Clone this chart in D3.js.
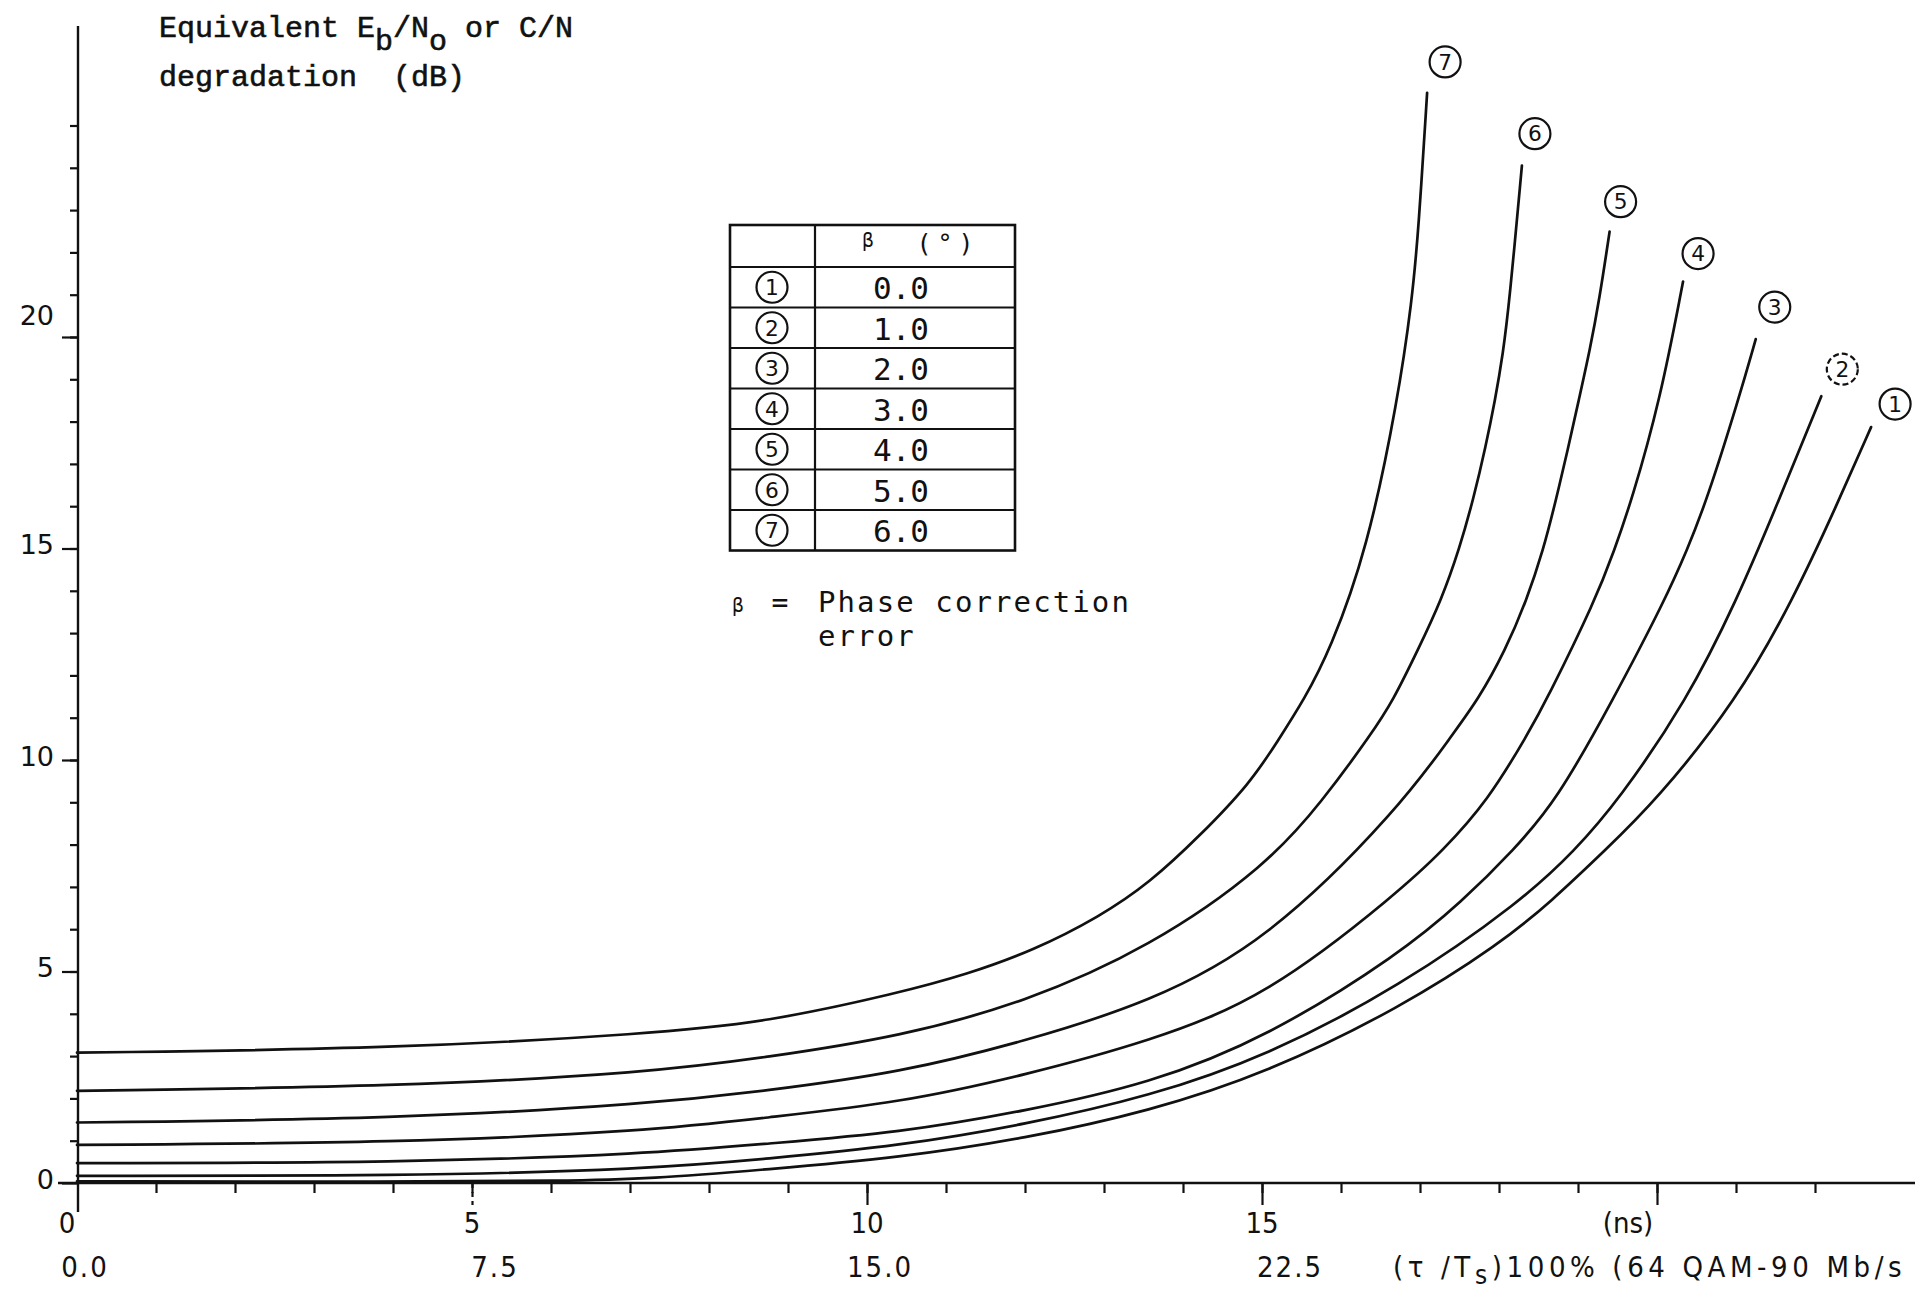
<!DOCTYPE html>
<html>
<head>
<meta charset="utf-8">
<script src="https://cdn.jsdelivr.net/npm/d3@7"></script>
<style>
  body { margin: 0; background: #fff; }
  svg { display: block; }
  text { fill: #111; white-space: pre; }
</style>
</head>
<body>
<svg id="chart" width="1915" height="1290"></svg>
<script>
// ---- data (x in ns, y in dB) ----
var betaValues = ["0.0", "1.0", "2.0", "3.0", "4.0", "5.0", "6.0"];

var curve1 = [[0,0.04],[4.09,0.03],[6.2,0.05],[7.25,0.1],[8.73,0.32],[10.42,0.6],[12,1.05],[13.58,1.7],[15.06,2.6],[16.75,4.14],[18.01,5.65],[18.67,6.67],[19.34,7.86],[19.99,9.04],[21.01,11.41],[21.72,13.78],[22.27,16.0],[22.71,17.87]];
var curve2 = [[0,0.17],[4.09,0.16],[7.25,0.33],[8.73,0.57],[10.42,0.88],[12,1.38],[13.58,2.05],[15.06,3.0],[16.75,4.65],[18.29,6.67],[18.96,7.86],[19.51,9.04],[20.38,11.41],[21.01,13.78],[21.49,15.9],[22.08,18.6]];
var curve3 = [[0,0.47],[4.09,0.48],[7.25,0.69],[8.73,0.93],[10.42,1.19],[12,1.7],[13.58,2.35],[15.06,3.44],[16.75,5.42],[17.54,6.67],[18.18,7.86],[18.73,9.04],[19.44,11.41],[20.1,13.78],[20.38,14.96],[20.63,16.14],[21.03,18.51],[21.25,19.95]];
var curve4 = [[0,0.9],[4.09,0.95],[7.25,1.23],[8.73,1.55],[10.42,1.9],[12,2.55],[13.58,3.35],[15.06,4.4],[16.75,6.91],[17.29,7.86],[17.86,9.04],[18.37,10.63],[18.6,11.41],[19.22,13.78],[19.46,14.96],[19.68,16.14],[20.04,18.51],[20.33,21.31]];
var curve5 = [[0,1.43],[4.09,1.52],[7.25,1.87],[8.73,2.18],[10.42,2.61],[12,3.35],[13.58,4.27],[15.06,5.7],[16.75,8.88],[17.42,10.63],[17.73,11.41],[18.08,12.59],[18.35,13.78],[18.56,14.96],[18.72,16.14],[18.87,17.33],[19.01,18.51],[19.15,19.69],[19.27,20.88],[19.4,22.49]];
var curve6 = [[0,2.18],[4.09,2.28],[7.25,2.61],[8.73,2.97],[10.42,3.46],[12,4.27],[13.58,5.57],[15.06,7.5],[15.77,9.04],[16.39,10.63],[16.66,11.41],[16.97,12.59],[17.27,13.78],[17.5,15.0],[17.68,16.2],[17.83,17.4],[17.95,18.5],[18.05,19.6],[18.13,20.8],[18.29,24.05]];
var curve7 = [[0,3.08],[4.09,3.18],[7.25,3.53],[8.73,3.8],[10.42,4.5],[11.26,4.93],[12.1,5.49],[12.95,6.3],[13.58,7.1],[14.21,8.2],[14.85,9.45],[15.2,10.45],[15.54,11.45],[15.86,12.59],[16.33,14.96],[16.72,18.51],[16.9,20.88],[16.98,22.5],[17.09,25.77]];

var series = [curve1, curve2, curve3, curve4, curve5, curve6, curve7];

var yMajorTicks = [0, 5, 10, 15, 20];
var xTopValues = [0, 5, 10, 15, 20];
var xTopLabels = ["0", "5", "10", "15", "(ns)"];
var xBottomValues = [0, 5, 10, 15];
var xBottomLabels = ["0.0", "7.5", "15.0", "22.5"];

// label offsets (px) of the circled numbers from each curve's end
var labelOffsets = [[24,-23],[21,-27],[19,-32],[15,-28],[11,-30],[13,-32],[18,-31]];

var svg = d3.select("#chart");

var x = d3.scaleLinear().domain([0, 20]).range([77, 1657]),
    y = d3.scaleLinear().domain([0, 20]).range([1183, 337]);

var axisX = 78;
var mono = "'DejaVu Sans Mono', monospace";
var condensed = "'DejaVu Sans Condensed', sans-serif";

// ---- title ----
var title = svg.append("text")
  .attr("x", 159).attr("y", 37)
  .attr("font-family", "'Liberation Mono', monospace")
  .attr("font-size", 30)
  .attr("stroke", "#111").attr("stroke-width", 0.6);
title.append("tspan").text("Equivalent E");
title.append("tspan").attr("dy", 13).text("b");
title.append("tspan").attr("dy", -13).text("/N");
title.append("tspan").attr("dy", 13).text("o");
title.append("tspan").attr("dy", -13).text(" or C/N");

svg.append("text")
  .attr("x", 159).attr("y", 86)
  .attr("font-family", "'Liberation Mono', monospace")
  .attr("font-size", 30)
  .attr("stroke", "#111").attr("stroke-width", 0.6)
  .text("degradation  (dB)");

// ---- y axis ----
svg.append("line")
  .attr("x1", axisX).attr("x2", axisX)
  .attr("y1", 26).attr("y2", 1212)
  .attr("stroke", "#111").attr("stroke-width", 2.4);

svg.append("g")
  .attr("transform", "translate(" + axisX + ",0)")
  .call(d3.axisLeft(y).tickValues(d3.range(1, 26)).tickSize(8).tickFormat(""));

var yMajor = svg.append("g")
  .attr("transform", "translate(" + axisX + ",0)")
  .call(d3.axisLeft(y).tickValues(yMajorTicks).tickSize(16).tickPadding(8));

yMajor.selectAll("text")
  .attr("font-family", "'DejaVu Sans', sans-serif")
  .attr("font-size", 27)
  .attr("fill", "#111")
  .attr("dy", function(d) { return d === 20 ? "-0.45em" : "0.2em"; });

// ---- x axis ----
svg.append("line")
  .attr("x1", 58).attr("x2", 1915)
  .attr("y1", y(0)).attr("y2", y(0))
  .attr("stroke", "#111").attr("stroke-width", 2.4);

svg.append("g")
  .attr("transform", "translate(0," + y(0) + ")")
  .call(d3.axisBottom(x).tickValues(d3.range(1, 23)).tickSize(10).tickFormat(""));

svg.append("g")
  .attr("transform", "translate(0," + y(0) + ")")
  .call(d3.axisBottom(x).tickValues([10, 15, 20]).tickSize(22).tickFormat(""));

var xDashed = svg.append("g")
  .attr("transform", "translate(0," + y(0) + ")")
  .call(d3.axisBottom(x).tickValues([5]).tickSize(22).tickFormat(""));
xDashed.selectAll("line").attr("stroke-dasharray", "5,4");

svg.selectAll(".domain").remove();
svg.selectAll(".tick line").attr("stroke", "#111").attr("stroke-width", 2.2);

var topOffsets = [-10, 0, 0, 0, -29];
svg.selectAll(".xTop")
  .data(xTopValues)
  .enter().append("text")
  .attr("class", "xTop")
  .attr("x", function(d, i) { return x(d) + topOffsets[i]; })
  .attr("y", 1233)
  .attr("text-anchor", "middle")
  .attr("font-family", condensed)
  .attr("font-size", 29)
  .text(function(d, i) { return xTopLabels[i]; });

var bottomOffsets = [8, 23, 13, 28];
svg.selectAll(".xBottom")
  .data(xBottomValues)
  .enter().append("text")
  .attr("class", "xBottom")
  .attr("x", function(d, i) { return x(d) + bottomOffsets[i]; })
  .attr("y", 1277)
  .attr("text-anchor", "middle")
  .attr("font-family", condensed)
  .attr("font-size", 29)
  .attr("letter-spacing", 2)
  .text(function(d, i) { return xBottomLabels[i]; });

var unitLabel = svg.append("text")
  .attr("x", 1393).attr("y", 1277)
  .attr("font-family", condensed)
  .attr("font-size", 29)
  .attr("letter-spacing", 4.6);
unitLabel.append("tspan").text("(\u03c4 /T");
unitLabel.append("tspan").attr("dy", 7).attr("font-size", 26).text("s");
unitLabel.append("tspan").attr("dy", -7).text(")100% (64 QAM-90 Mb/s");

// ---- curves ----
var line = d3.line()
  .x(function(d) { return x(d[0]); })
  .y(function(d) { return y(d[1]); })
  .curve(d3.curveBasis);

svg.selectAll(".curve")
  .data(series)
  .enter().append("path")
  .attr("class", "curve")
  .attr("fill", "none")
  .attr("stroke", "#111")
  .attr("stroke-width", 2.7)
  .attr("stroke-linecap", "round")
  .attr("d", line);

// circled number helper
function circled(g, cx, cy, n, r, dashed) {
  g.append("circle")
    .attr("cx", cx).attr("cy", cy).attr("r", r)
    .attr("fill", "none").attr("stroke", "#111").attr("stroke-width", 2.2)
    .attr("stroke-dasharray", dashed ? "6,3" : null);
  g.append("text")
    .attr("x", cx).attr("y", cy)
    .attr("dy", "0.36em")
    .attr("text-anchor", "middle")
    .attr("font-family", "'DejaVu Sans', sans-serif")
    .attr("font-size", r * 1.4)
    .text(n);
}

var curveLabels = svg.append("g");
series.forEach(function(s, i) {
  var end = s[s.length - 1];
  circled(curveLabels, x(end[0]) + labelOffsets[i][0], y(end[1]) + labelOffsets[i][1], i + 1, 15.5, i === 1);
});

// ---- legend table ----
var tLeft = 730, tDiv = 815, tRight = 1015, tTop = 225, tHead = 267, rowH = 40.5;
var table = svg.append("g");
var tBottom = tHead + rowH * betaValues.length;

table.append("rect")
  .attr("x", tLeft).attr("y", tTop)
  .attr("width", tRight - tLeft).attr("height", tBottom - tTop)
  .attr("fill", "none").attr("stroke", "#111").attr("stroke-width", 2.6);

table.append("line")
  .attr("x1", tDiv).attr("x2", tDiv).attr("y1", tTop).attr("y2", tBottom)
  .attr("stroke", "#111").attr("stroke-width", 2.2);

table.selectAll(".rowline")
  .data(d3.range(betaValues.length))
  .enter().append("line")
  .attr("x1", tLeft).attr("x2", tRight)
  .attr("y1", function(d) { return tHead + d * rowH; })
  .attr("y2", function(d) { return tHead + d * rowH; })
  .attr("stroke", "#111").attr("stroke-width", 2);

table.append("text")
  .attr("x", 868).attr("y", 247)
  .attr("text-anchor", "middle")
  .attr("font-family", mono).attr("font-size", 19)
  .text("\u03b2");
table.append("text")
  .attr("x", 948).attr("y", 252)
  .attr("text-anchor", "middle")
  .attr("font-family", mono).attr("font-size", 25)
  .attr("letter-spacing", 6)
  .text("(\u00b0)");

betaValues.forEach(function(v, i) {
  var cy = tHead + rowH * (i + 0.5);
  circled(table, 772, cy, i + 1, 15.5, false);
  table.append("text")
    .attr("x", 901).attr("y", cy)
    .attr("dy", "0.38em")
    .attr("text-anchor", "middle")
    .attr("font-family", mono).attr("font-size", 31)
    .text(v);
});

svg.append("text")
  .attr("x", 738).attr("y", 612)
  .attr("text-anchor", "middle")
  .attr("font-family", mono).attr("font-size", 19)
  .text("\u03b2");
svg.append("text")
  .attr("x", 780).attr("y", 612)
  .attr("text-anchor", "middle")
  .attr("font-family", mono).attr("font-size", 28)
  .text("=");
svg.append("text")
  .attr("x", 818).attr("y", 612)
  .attr("font-family", mono).attr("font-size", 29)
  .attr("letter-spacing", 2.1)
  .text("Phase correction");
svg.append("text")
  .attr("x", 818).attr("y", 646)
  .attr("font-family", mono).attr("font-size", 29)
  .attr("letter-spacing", 2.1)
  .text("error");
</script>
</body>
</html>
